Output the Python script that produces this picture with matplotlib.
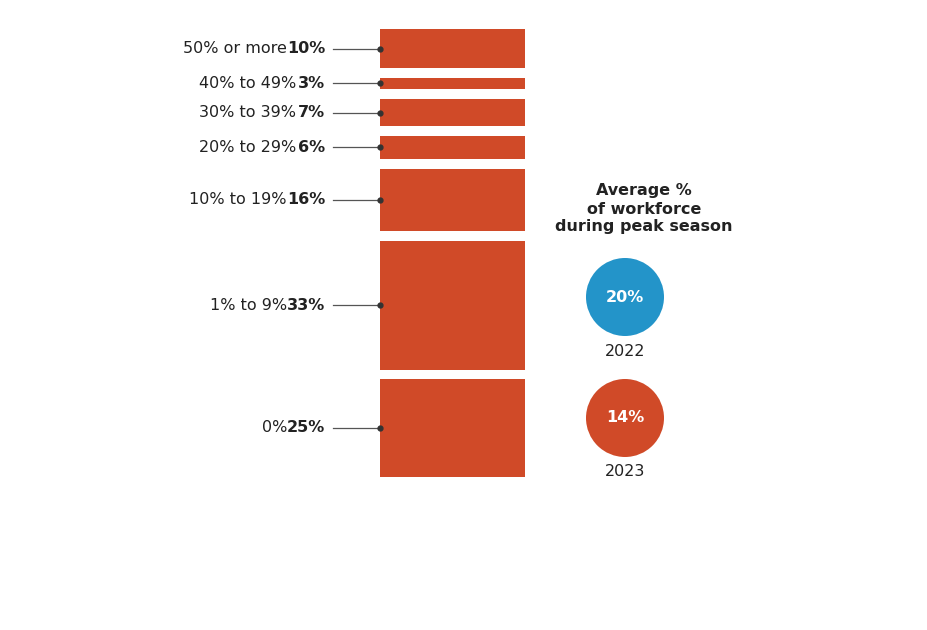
import matplotlib
matplotlib.use("Agg")
import matplotlib.pyplot as plt
from matplotlib.patches import Circle

categories = ["50% or more", "40% to 49%", "30% to 39%", "20% to 29%", "10% to 19%", "1% to 9%", "0%"]
values = [10, 3, 7, 6, 16, 33, 25]
years = ["2022", "2023"]
averages = [20, 14]

RED = "#D04A28"
BLUE = "#2394C9"

W, H = 927, 630
fig = plt.figure(figsize=(W/100, H/100), dpi=100)
ax = fig.add_axes([0, 0, 1, 1])
ax.set_xlim(0, W)
ax.set_ylim(H, 0)
ax.axis("off")

scale = 3.9
gap = 9.6
y = 29
for cat, v in zip(categories, values):
    h = v * scale
    ax.add_patch(plt.Rectangle((380, y), 145, h, color=RED, lw=0))
    yc = y + h / 2
    ax.plot([333, 380], [yc, yc], color="#555555", lw=0.9)
    ax.plot([380], [yc], "o", color="#333333", ms=3.5)
    ax.text(325, yc, f"{v}%", ha="right", va="center", fontsize=11.5,
            fontweight="bold", color="#222222")
    ax.text(287 if v >= 10 else 296, yc, cat, ha="right", va="center", fontsize=11.5, color="#222222")
    y += h + gap

ax.text(644, 209, "Average %\nof workforce\nduring peak season", ha="center", va="center",
        fontsize=11.5, fontweight="bold", color="#222222", linespacing=1.25)
for i, (yr, a, c) in enumerate(zip(years, averages, [BLUE, RED])):
    cy = 297 + i * 121
    ax.add_patch(Circle((625, cy), 39, color=c, lw=0))
    ax.text(625, cy, f"{a}%", ha="center", va="center", fontsize=11.5,
            fontweight="bold", color="white")
    ax.text(625, cy + 54, yr, ha="center", va="center", fontsize=11.5, color="#222222")

fig.savefig("out.png", dpi=100)
